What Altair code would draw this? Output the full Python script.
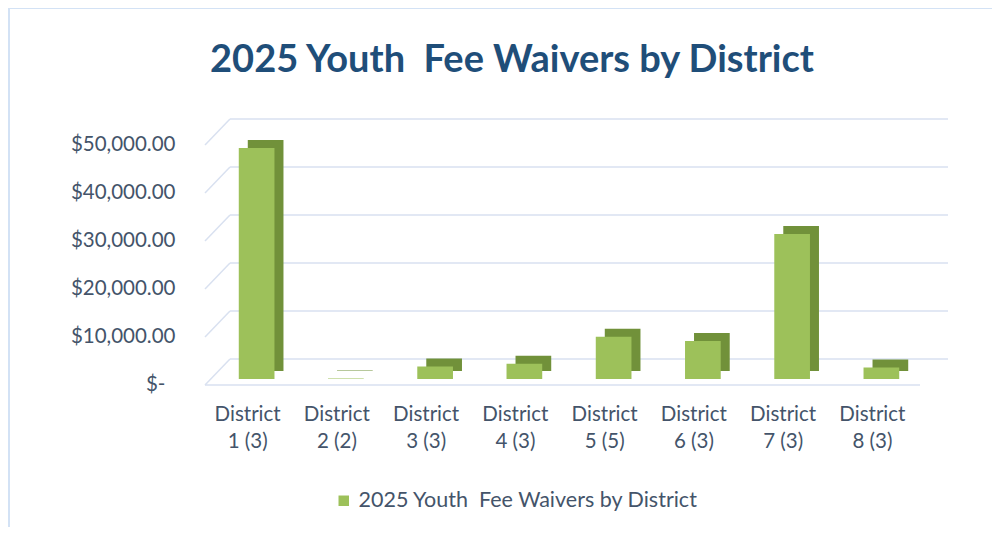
import altair as alt
import pandas as pd

districts = ["District 1 (3)", "District 2 (2)", "District 3 (3)", "District 4 (3)",
             "District 5 (5)", "District 6 (3)", "District 7 (3)", "District 8 (3)"]
amounts = [48100, 120, 2600, 3200, 8800, 7900, 30200, 2400]
series_name = "2025 Youth\u00a0 Fee Waivers by District"
title_text = "2025 Youth\u00a0 Fee Waivers by District"
y_ticks = [0, 10000, 20000, 30000, 40000, 50000]

df = pd.DataFrame({"district": districts, "amount": amounts,
                   "series": [series_name] * len(districts)})
grid_df = pd.DataFrame({"v": y_ticks})
one_df = pd.DataFrame({"t": [title_text]})

FONT = "Lato"
TEXT_COLOR = "#44546A"
GRID = "#D9E1F0"

x_scale = alt.Scale(domain=districts, paddingInner=0.6, paddingOuter=0.3)
y_scale = alt.Scale(domain=[0, 50000], nice=False)

x_axis = alt.Axis(domain=False, ticks=False, labelAngle=0,
                  labelExpr="['District', substring(datum.label, 9)]",
                  labelFont=FONT, labelFontSize=20.5, labelColor=TEXT_COLOR,
                  labelLineHeight=27, labelPadding=25, labelOffset=-9)
y_axis = alt.Axis(values=y_ticks, grid=False, domain=False, ticks=False,
                  labelExpr="datum.value == 0 ? '$-' : '$' + format(datum.value, ',.2f')",
                  labelFont=FONT, labelFontSize=20.5, labelColor=TEXT_COLOR,
                  labelPadding={"condition": {"test": "datum.value == 0", "value": 47}, "value": 37},
                  labelOffset=5)

back_grid = alt.Chart(grid_df).mark_rule(color=GRID, strokeWidth=1.5, yOffset=-20).encode(
    y=alt.Y("v:Q", scale=y_scale, axis=y_axis, title=None),
    x=alt.value(18), x2=alt.value(736))

wall_diag = alt.Chart(grid_df).mark_rule(color=GRID, strokeWidth=1.5, yOffset=6, y2Offset=-20).encode(
    y=alt.Y("v:Q", scale=y_scale, axis=y_axis, title=None), y2=alt.Y2("v:Q"),
    x=alt.value(-7), x2=alt.value(18))

floor = alt.Chart(grid_df).transform_filter("datum.v == 0").mark_rule(
    color=GRID, strokeWidth=1.5, yOffset=6).encode(
    y=alt.Y("v:Q", scale=y_scale, axis=y_axis, title=None),
    x=alt.value(-7), x2=alt.value(708))

side = alt.Chart(df).mark_bar(color="#71913A", xOffset=9, x2Offset=9, yOffset=-8, y2Offset=-8).encode(
    x=alt.X("district:N", scale=x_scale, sort=districts, axis=x_axis, title=None),
    y=alt.Y("amount:Q", scale=y_scale, axis=y_axis, title=None))

front = alt.Chart(df).mark_bar().encode(
    x=alt.X("district:N", scale=x_scale, sort=districts, axis=x_axis, title=None),
    y=alt.Y("amount:Q", scale=y_scale, axis=y_axis, title=None),
    color=alt.Color("series:N", scale=alt.Scale(range=["#9DC15A"]),
                    legend=alt.Legend(title=None, orient="none", legendX=121, legendY=351,
                                      symbolType="square", symbolSize=110, symbolStrokeWidth=0,
                                      labelFont=FONT, labelFontSize=21.5, labelColor=TEXT_COLOR,
                                      labelOffset=4, labelLimit=0, padding=0)))

title = alt.Chart(one_df).mark_text(font=FONT, fontSize=38, fontWeight="bold", color="#1F4E79",
                                    align="center", baseline="alphabetic").encode(
    text="t:N", x=alt.value(300), y=alt.value(-67))

border_left = alt.Chart(one_df).mark_rule(color="#D3E2F5", strokeWidth=2).encode(
    x=alt.value(-203), y=alt.value(-132), y2=alt.value(390))
border_top = alt.Chart(one_df).mark_rule(color="#D3E2F5", strokeWidth=2).encode(
    x=alt.value(-203), x2=alt.value(780), y=alt.value(-131))

chart = alt.layer(border_left, border_top, back_grid, wall_diag, floor, side, front, title).properties(
    width=714, height=240,
    autosize=alt.AutoSizeParams(type="none"),
    padding={"left": 204, "top": 131, "right": 70, "bottom": 148},
    background="white",
).configure_view(stroke=None)

chart.save("out.html", embed_options={"renderer": "svg", "actions": False})
